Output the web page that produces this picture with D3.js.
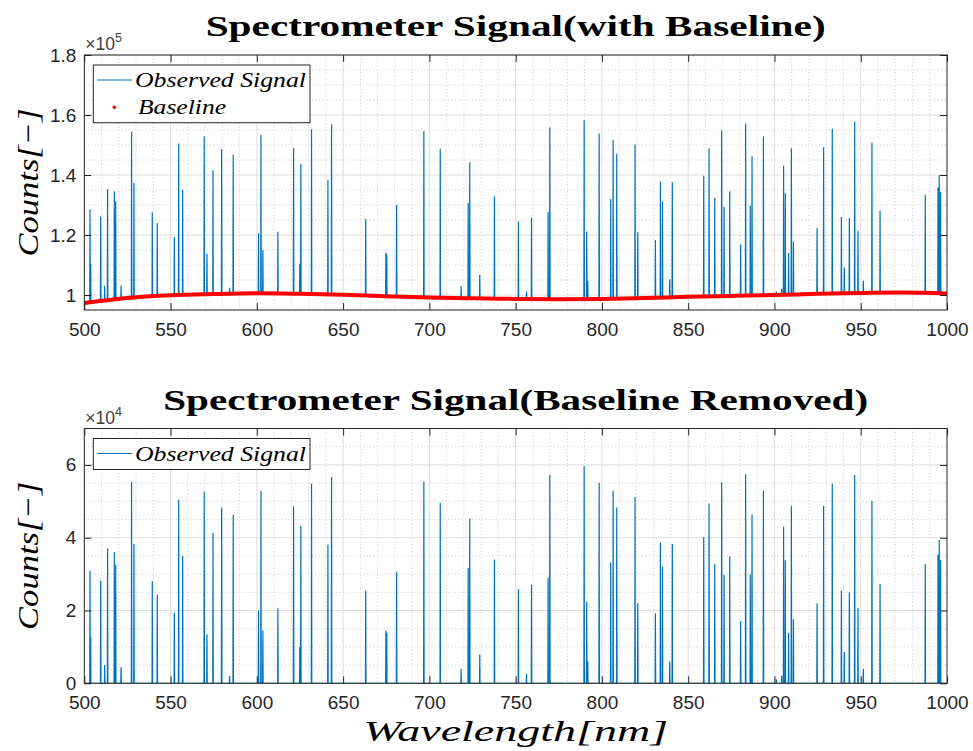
<!DOCTYPE html>
<html>
<head>
<meta charset="utf-8">
<script src="https://cdn.jsdelivr.net/npm/d3@7"></script>
<style>
  body { margin: 0; background: #ffffff; }
  svg { display: block; }
</style>
</head>
<body>
<svg id="fig" width="973" height="751"></svg>
<script>
// Emission lines: centre wavelength [nm] and height above the baseline [counts]
const peakWavelengths = [
  503.3, 503.7, 509.5, 511.8, 513.5, 517.4, 518.2, 521.3, 527.4, 528.8,
  539.4, 542.3, 552.2, 554.7, 557.0, 569.5, 571.1, 574.6, 579.6, 584.2,
  586.3, 601.0, 602.4, 603.5, 612.2, 621.3, 624.9, 625.5, 631.7, 641.2,
  643.3, 663.1, 674.8, 675.3, 681.0, 696.8, 706.3, 718.4, 722.5, 723.4,
  729.2, 737.7, 751.6, 756.3, 759.2, 768.8, 769.8, 789.7, 791.2, 791.8,
  798.4, 805.1, 806.5, 808.6, 819.2, 820.8, 831.0, 833.9, 835.1, 839.3,
  840.8, 859.0, 862.1, 865.4, 869.4, 870.8, 874.1, 880.4, 883.3, 886.0,
  887.0, 893.6, 901.1, 904.2, 905.3, 906.3, 908.2, 909.8, 911.0, 924.7,
  928.5, 933.5, 938.8, 940.5, 943.4, 946.5, 948.4, 951.5, 956.5, 961.2,
  987.4, 994.8, 995.5, 996.3
];
const peakCounts = [
  31000, 12800, 28200, 5000, 37000, 36100, 32600, 4400, 55300, 38300,
  28100, 24400, 19400, 50500, 35000, 52700, 13500, 41300, 48300, 2000,
  46300, 20000, 52900, 14500, 20600, 48600, 10000, 43300, 54900, 38100,
  56700, 25500, 14500, 13900, 30600, 55400, 49600, 4000, 31700, 45300,
  7900, 34000, 25900, 2600, 27100, 29000, 57200, 59600, 22500, 6000,
  55100, 33200, 52900, 48300, 51200, 22000, 19200, 38700, 32100, 6000,
  38300, 40200, 49400, 32800, 55200, 29800, 34900, 17100, 57400, 29900,
  46400, 52900, 1100, 2100, 43000, 33800, 13900, 48800, 17600, 22000,
  48800, 54900, 25400, 8600, 25000, 57200, 20700, 4000, 50100, 27300,
  32800, 35300, 39400, 33900
];

// Slowly varying detector baseline [counts]
const baselineWavelengths = [
  500, 525, 550, 575, 600, 625, 650, 675, 700, 725, 750,
  775, 800, 825, 850, 875, 900, 925, 950, 975, 1000
];
const baselineCounts = [
  97300, 99000, 99900, 100300, 100550, 100400, 100100, 99600, 99200, 98900, 98700,
  98600, 98700, 99000, 99400, 99700, 100000, 100400, 100700, 100800, 100500
];

// Axis ticks
const xTicks = [500, 550, 600, 650, 700, 750, 800, 850, 900, 950, 1000];
const yTicksTop = [100000, 120000, 140000, 160000, 180000];
const yTickLabelsTop = ["1", "1.2", "1.4", "1.6", "1.8"];
const yTicksBottom = [0, 20000, 40000, 60000];
const yTickLabelsBottom = ["0", "2", "4", "6"];

// ---------------------------------------------------------------------------
const svg = d3.select("#fig");
const BLUE = "#0072BD";
const RED = "#FF0000";
const AX = "#262626";
const TICK_FONT = "'Liberation Sans', Arial, Helvetica, sans-serif";
const SERIF = "'Liberation Serif', 'Times New Roman', serif";
const LINE_HALF_WIDTH = 0.15; // nm, half width of a drawn emission line

const left = 84.3, right = 947;
const x = d3.scaleLinear().domain([500, 1000]).range([left, right]);

// signal after baseline removal: zero everywhere except the emission lines
const lines = peakWavelengths.map((w, i) => ({ w, c: peakCounts[i] }));
let residual = baselineWavelengths.map(w => [w, 0]);
lines.forEach(p => {
  residual.push([p.w - LINE_HALF_WIDTH, 0], [p.w, p.c], [p.w + LINE_HALF_WIDTH, 0]);
});
residual.sort((a, b) => a[0] - b[0]);

// observed signal = baseline + lines
const baseAt = d3.scaleLinear().domain(baselineWavelengths).range(baselineCounts);
const observed = residual.map(([w, c]) => [w, baseAt(w) + c]);
const baseline = baselineWavelengths.map((w, i) => [w, baselineCounts[i]]);

function panel(opts) {
  const { top, bottom, yDomain, yTicks, yLabels, yMinor, exponent, data, base, title, titleLen, legendRows } = opts;
  const y = d3.scaleLinear().domain(yDomain).range([bottom, top]);
  const g = svg.append("g");

  // minor grid
  const xMinor = d3.range(500, 1001, 10).filter(v => v % 50 !== 0);
  g.append("g").selectAll("line").data(xMinor).join("line")
    .attr("x1", d => x(d)).attr("x2", d => x(d)).attr("y1", top).attr("y2", bottom)
    .attr("stroke", "#c8c8c8").attr("stroke-width", 0.8).attr("stroke-dasharray", "1.2,2.2");
  g.append("g").selectAll("line").data(yMinor).join("line")
    .attr("y1", d => y(d)).attr("y2", d => y(d)).attr("x1", left).attr("x2", right)
    .attr("stroke", "#c8c8c8").attr("stroke-width", 0.8).attr("stroke-dasharray", "1.2,2.2");

  // major grid
  g.append("g").selectAll("line").data(xTicks.slice(1, -1)).join("line")
    .attr("x1", d => x(d)).attr("x2", d => x(d)).attr("y1", top).attr("y2", bottom)
    .attr("stroke", "#dedede").attr("stroke-width", 1);
  g.append("g").selectAll("line").data(yTicks).join("line")
    .attr("y1", d => y(d)).attr("y2", d => y(d)).attr("x1", left).attr("x2", right)
    .attr("stroke", "#dedede").attr("stroke-width", 1);

  // data
  const clipId = "clip" + Math.round(top);
  svg.append("clipPath").attr("id", clipId).append("rect")
    .attr("x", left).attr("y", top).attr("width", right - left).attr("height", bottom - top);
  const plot = g.append("g").attr("clip-path", `url(#${clipId})`);
  const lineGen = d3.line().x(d => x(d[0])).y(d => y(d[1]));
  plot.append("path").datum(data).attr("d", lineGen)
    .attr("fill", "none").attr("stroke", BLUE).attr("stroke-width", 1.2)
    .attr("stroke-linejoin", "miter");
  if (base) {
    plot.append("path").datum(base)
      .attr("d", d3.line().x(d => x(d[0])).y(d => y(d[1])).curve(d3.curveCatmullRom))
      .attr("fill", "none").attr("stroke", RED).attr("stroke-width", 4)
      .attr("stroke-linecap", "round");
  }

  // axes (ticks pointing inward on all four sides)
  const ax = (gen, tx, ty) => g.append("g").attr("transform", `translate(${tx},${ty})`).call(gen)
    .call(s => s.select(".domain").remove())
    .call(s => s.selectAll(".tick line").attr("stroke", AX).attr("stroke-width", 1));
  const bx = ax(d3.axisBottom(x).tickValues(xTicks).tickFormat(d3.format("d")).tickSize(-7).tickPadding(12.5), 0, bottom);
  ax(d3.axisTop(x).tickValues(xTicks).tickFormat("").tickSize(-7), 0, top);
  const ly = ax(d3.axisLeft(y).tickValues(yTicks).tickFormat((d, i) => yLabels[i]).tickSize(-7).tickPadding(8), left, 0);
  ax(d3.axisRight(y).tickValues(yTicks).tickFormat("").tickSize(-7), right, 0);
  [bx, ly].forEach(s => s.selectAll("text")
    .attr("font-family", TICK_FONT).attr("font-size", 19).attr("fill", AX));

  // box
  g.append("rect").attr("x", left).attr("y", top).attr("width", right - left).attr("height", bottom - top)
    .attr("fill", "none").attr("stroke", AX).attr("stroke-width", 1);

  // exponent
  const ex = g.append("text").attr("x", left + 1).attr("y", top - 5)
    .attr("font-family", TICK_FONT).attr("font-size", 17.5).attr("fill", "#404040");
  ex.append("tspan").text("\u00d710");
  ex.append("tspan").attr("dy", -8).attr("font-size", 12.5).text(exponent);

  // title
  g.append("text").attr("x", (left + right) / 2).attr("y", top - 19)
    .attr("text-anchor", "middle").attr("font-family", SERIF).attr("font-weight", "bold")
    .attr("font-size", 30).attr("textLength", titleLen).attr("lengthAdjust", "spacingAndGlyphs")
    .attr("fill", "#000").text(title);

  // y label
  g.append("text").attr("transform", `translate(38,${(top + bottom) / 2}) rotate(-90)`)
    .attr("text-anchor", "middle").attr("font-family", SERIF).attr("font-style", "italic")
    .attr("font-size", 30).attr("textLength", 148).attr("lengthAdjust", "spacingAndGlyphs")
    .attr("fill", "#000").text("Counts[\u2212]");

  // legend
  const lgTop = top + 10;
  const lg = g.append("g");
  lg.append("rect").attr("x", 93.3).attr("y", lgTop)
    .attr("width", 216.7).attr("height", legendRows === 2 ? 57.7 : 31)
    .attr("fill", "#fff").attr("stroke", AX).attr("stroke-width", 1);
  lg.append("line").attr("x1", 97.3).attr("x2", 131.7).attr("y1", lgTop + 15).attr("y2", lgTop + 15)
    .attr("stroke", BLUE).attr("stroke-width", 1.2);
  lg.append("text").attr("x", 135).attr("y", lgTop + 22)
    .attr("font-family", SERIF).attr("font-style", "italic").attr("font-size", 21)
    .attr("textLength", 171).attr("lengthAdjust", "spacingAndGlyphs").attr("fill", "#000")
    .text("Observed Signal");
  if (legendRows === 2) {
    lg.append("circle").attr("cx", 114.3).attr("cy", lgTop + 42.3).attr("r", 1.8).attr("fill", RED);
    lg.append("text").attr("x", 138).attr("y", lgTop + 49)
      .attr("font-family", SERIF).attr("font-style", "italic").attr("font-size", 21)
      .attr("textLength", 88).attr("lengthAdjust", "spacingAndGlyphs").attr("fill", "#000")
      .text("Baseline");
  }
}

panel({
  top: 55, bottom: 310, yDomain: [95000, 180000],
  yTicks: yTicksTop, yLabels: yTickLabelsTop,
  yMinor: d3.range(95000, 180001, 5000).filter(v => v % 20000 !== 0),
  exponent: "5", data: observed, base: baseline,
  title: "Spectrometer Signal(with Baseline)", titleLen: 620, legendRows: 2
});

panel({
  top: 428.5, bottom: 683.3, yDomain: [0, 70000],
  yTicks: yTicksBottom, yLabels: yTickLabelsBottom,
  yMinor: d3.range(0, 70001, 5000).filter(v => v % 20000 !== 0),
  exponent: "4", data: residual, base: null,
  title: "Spectrometer Signal(Baseline Removed)", titleLen: 705, legendRows: 1
});

// shared x label
svg.append("text").attr("x", (left + right) / 2).attr("y", 741)
  .attr("text-anchor", "middle").attr("font-family", SERIF).attr("font-style", "italic")
  .attr("font-size", 29).attr("textLength", 305).attr("lengthAdjust", "spacingAndGlyphs")
  .attr("fill", "#000").text("Wavelength[nm]");
</script>
</body>
</html>
